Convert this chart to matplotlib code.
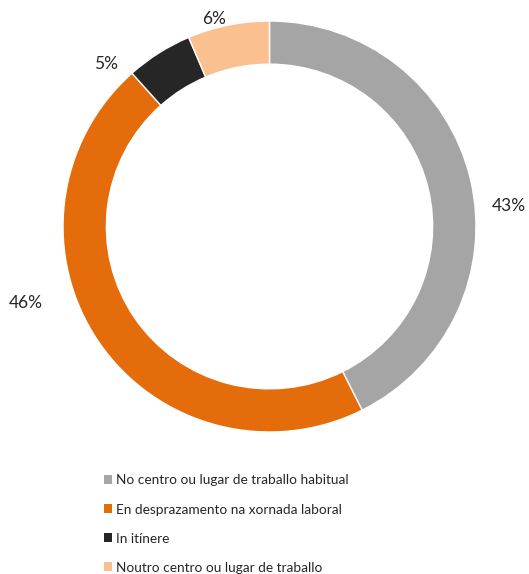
import matplotlib.pyplot as plt
from matplotlib.patches import Patch

categories = ["No centro ou lugar de traballo habitual",
              "En desprazamento na xornada laboral",
              "In itínere",
              "Noutro centro ou lugar de traballo"]
values = [42.6, 45.8, 5.2, 6.4]
colors = ["#A5A5A5", "#E46C0A", "#262626", "#FAC090"]
# label anchors in axes data units (manually placed in the original)
label_pos = [(1.16, 0.10), (-1.18, -0.37), (-0.79, 0.79), (-0.27, 1.01)]

plt.rcParams['font.family'] = ['Lato', 'DejaVu Sans']

fig = plt.figure(figsize=(5.29, 5.74), dpi=100)
ax = fig.add_axes([63 / 529, (574 - 432) / 574, 413 / 529, 411 / 574])

wedges, _ = ax.pie(values, colors=colors, startangle=90, counterclock=False,
                   radius=1.0, wedgeprops=dict(width=0.21, edgecolor='white', linewidth=1))
ax.set_xlim(-1, 1)
ax.set_ylim(-1, 1)
ax.set_aspect('auto')
ax.axis('off')

for v, (x, y) in zip(values, label_pos):
    ax.text(x, y, f"{v:.0f}%", ha='center', va='center', fontsize=12.5, color='#262626')

handles = [Patch(facecolor=c, edgecolor='none') for c in colors]
fig.legend(handles, categories, loc='upper left', bbox_to_anchor=(104 / 529, 1 - 474.5 / 574),
           frameon=False, fontsize=9.8, handlelength=0.6, handleheight=0.6, handletextpad=0.25,
           labelspacing=1.25, borderpad=0, borderaxespad=0, labelcolor='#262626')

fig.savefig("out.png", dpi=100)
